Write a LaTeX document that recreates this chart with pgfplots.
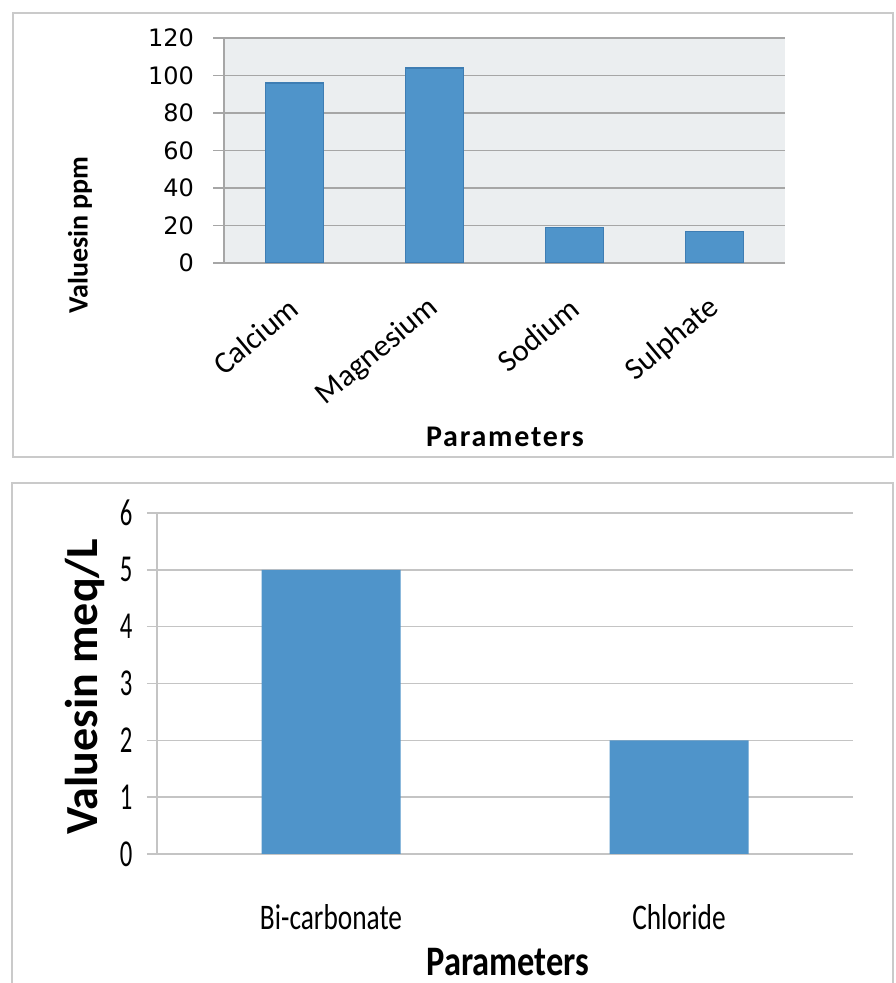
\documentclass[border=0pt]{standalone}
\usepackage{fontspec}
\setmainfont{Carlito}
\newfontfamily\dejavu{DejaVu Sans}
\usepackage{pgfplots}
\pgfplotsset{compat=1.18}
\definecolor{barblue}{HTML}{4F94CA}
\definecolor{baredge}{HTML}{3E7DB3}
\definecolor{plotbg}{HTML}{EBEEF0}
\definecolor{gridc}{HTML}{A6A6A6}
\definecolor{gridl}{HTML}{C4C4C4}
\definecolor{framec}{HTML}{CACACA}
\begin{document}
\begin{tikzpicture}
\path[use as bounding box] (0pt,0pt) rectangle (447.5pt,491.5pt);
\draw[framec, line width=1.2pt] (6.5pt,263pt) rectangle (446.5pt,485pt);
\draw[framec, line width=1.2pt] (6pt,-5pt) rectangle (446.5pt,250pt);
\begin{axis}[
 at={(112pt,360pt)}, anchor=south west, scale only axis, width=280.5pt, height=112.5pt,
 ybar, bar width=29pt, ymin=0, ymax=120, xmin=-0.5, xmax=3.5,
 xtick={0,1,2,3}, xticklabels={Calcium,Magnesium,Sodium,Sulphate},
 ytick={0,20,...,120},
 axis lines*=left, axis line style={gridc, line width=0.8pt},
 ymajorgrids, grid style={gridc, line width=0.8pt},
 axis background/.style={fill=plotbg},
 tick align=outside, major tick length=5.5pt,
 ytick style={gridc, line width=0.8pt}, xtick style={draw=none},
 /pgf/number format/assume math mode=true,
 yticklabel style={font=\dejavu\fontsize{12}{14}\selectfont, xshift=-6pt},
 xticklabel style={font=\fontsize{15.5}{17}\selectfont, inner sep=0pt, xshift=0pt, yshift=-15pt, rotate=40, anchor=east},
 ylabel={Valuesin ppm}, ylabel style={at={(rel axis cs:-0.2567,0.124)}, anchor=center, font=\bfseries\fontsize{14}{16}\selectfont},
 xlabel={Parameters}, xlabel style={at={(rel axis cs:0.5009,-0.773)}, anchor=center, font=\bfseries\fontsize{15}{17}\selectfont\addfontfeatures{LetterSpace=6}},
]
\addplot[fill=barblue, draw=baredge, line width=0.6pt] coordinates {(0,96) (1,104) (2,19) (3,17)};
\end{axis}
\begin{axis}[
 at={(78.5pt,64.5pt)}, anchor=south west, scale only axis, width=348pt, height=170.5pt,
 ybar, bar width=69.5pt, ymin=0, ymax=6, xmin=-0.5, xmax=1.5,
 xtick={0,1}, xticklabels={Bi-carbonate,Chloride},
 ytick={0,1,...,6},
 axis lines*=left, axis line style={gridl, line width=0.8pt},
 ymajorgrids, grid style={gridl, line width=0.8pt},
 tick align=outside, major tick length=5pt,
 ytick style={gridl, line width=0.8pt}, xtick style={draw=none},
 /pgf/number format/assume math mode=true,
 yticklabel style={font=\fontsize{19}{21}\selectfont, xshift=-5pt, xscale=0.65},
 xticklabel style={font=\fontsize{18}{20}\selectfont, anchor=base, yshift=-33pt, xscale=0.76},
 ylabel={Valuesin meq/L}, ylabel style={at={(rel axis cs:-0.1034,0.49)}, anchor=center, font=\bfseries\fontsize{23}{25}\selectfont},
 xlabel={Parameters}, xlabel style={at={(rel axis cs:0.504,-0.356)}, anchor=base, inner sep=0pt, font=\bfseries\fontsize{21}{23}\selectfont, xscale=0.82},
]
\addplot[fill=barblue, draw=none] coordinates {(0,5) (1,2)};
\end{axis}
\end{tikzpicture}
\end{document}
